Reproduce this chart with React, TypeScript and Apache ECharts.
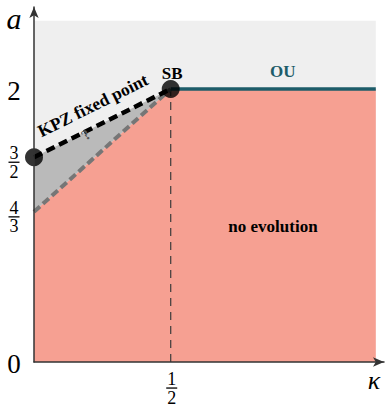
import React, { useEffect, useRef } from "react";
import * as echarts from "echarts";

// ---- data ----
const kappaRange = [0, 1.28];
const aRange = [0, 2.6];
const kappaTickValues = [0.5];
const kappaTickLabels = ["1/2"];
const aTickValues = [0, 1.1, 1.5, 2];
const aTickLabels = ["0", "4/3", "3/2", "2"];
const axisTitles = ["κ", "a"];

const backgroundRegion = [[0, 0], [0, 2.5], [1.25, 2.5], [1.25, 0]];
const noEvolutionRegion = [[0, 0], [0, 1.1], [0.5, 2], [1.25, 2], [1.25, 0]];
const uncertainRegion = [[0, 1.1], [0, 1.5], [0.5, 2]];
const kpzLine = [[0, 1.5], [0.5, 2]];
const lowerBoundLine = [[0, 1.1], [0.5, 2]];
const ouLine = [[0.5, 2], [1.25, 2]];
const sbLine = [[0.5, 0], [0.5, 2]];
const fixedPoints = [[0, 1.5], [0.5, 2]];

const annotationTexts = ["KPZ fixed point", "SB", "OU", "no evolution", "?"];
const annotationKappa = [0.215, 0.505, 0.91, 0.874, 0.19];
const annotationA = [1.88, 2.11, 2.125, 0.99, 1.665];

// ---- styles ----
const SERIF = "'Liberation Serif', 'DejaVu Serif', serif";
const annotationStyles: Record<string, any> = {
  "KPZ fixed point": { color: "#000", size: 17.5, rot: 0.46 },
  SB: { color: "#000", size: 17, rot: 0 },
  OU: { color: "#1d5c69", size: 17, rot: 0 },
  "no evolution": { color: "#000", size: 17, rot: 0 },
  "?": { color: "#555", size: 15, rot: 0.7 },
};

function regionSeries(points: number[][], color: string, z: number) {
  return {
    type: "custom",
    z,
    silent: true,
    clip: false,
    data: [[0, 0]],
    renderItem: (_p: any, api: any) => ({
      type: "polygon",
      shape: { points: points.map((pt) => api.coord(pt)) },
      style: { fill: color },
    }),
  };
}

function lineSeries(points: number[][], color: string, width: number, dash: any, z: number) {
  return {
    type: "line",
    z,
    silent: true,
    symbol: "none",
    data: points,
    lineStyle: { color, width, type: dash, cap: "butt" },
  };
}

function fractionOrText(label: string, x: number, y: number, size: number, fracSize: number) {
  if (label.includes("/")) {
    const [num, den] = label.split("/");
    return {
      type: "group",
      children: [
        { type: "text", x, y: y - 9, style: { text: num, font: `${fracSize}px ${SERIF}`, fill: "#000", align: "center", verticalAlign: "middle" } },
        { type: "rect", shape: { x: x - 5.5, y: y - 0.6, width: 11, height: 1.3 }, style: { fill: "#000" } },
        { type: "text", x, y: y + 9.5, style: { text: den, font: `${fracSize}px ${SERIF}`, fill: "#000", align: "center", verticalAlign: "middle" } },
      ],
    };
  }
  return { type: "text", x, y, style: { text: label, font: `${size}px ${SERIF}`, fill: "#000", align: "center", verticalAlign: "middle" } };
}

export default function App() {
  const ref = useRef<HTMLDivElement>(null);
  useEffect(() => {
    if (!ref.current) return;
    const chart = echarts.init(ref.current, null, { renderer: "svg" });
    const axisCommon = {
      type: "value",
      z: 10,
      axisLine: { show: true, symbol: ["none", "arrow"], symbolSize: [7, 11], lineStyle: { color: "#333", width: 1.5 } },
      axisTick: { show: false },
      axisLabel: { show: false },
      splitLine: { show: false },
    };
    chart.setOption({
      animation: false,
      grid: { left: 34, top: 7, width: 350, height: 355, containLabel: false },
      xAxis: { ...axisCommon, min: kappaRange[0], max: kappaRange[1] },
      yAxis: { ...axisCommon, min: aRange[0], max: aRange[1] },
      series: [
        regionSeries(backgroundRegion, "#efefef", 1),
        regionSeries(noEvolutionRegion, "#f6a092", 2),
        regionSeries(uncertainRegion, "#bababa", 3),
        lineSeries(sbLine, "#3a3a3a", 1.2, [8, 6], 4),
        lineSeries(lowerBoundLine, "#767676", 4, [8, 4], 5),
        lineSeries(kpzLine, "#000", 4.5, [9, 5], 6),
        lineSeries(ouLine, "#1d5c69", 3.5, "solid", 6),
        {
          type: "scatter",
          z: 8,
          silent: true,
          symbol: "circle",
          symbolSize: 18,
          itemStyle: { color: "#000" },
          data: fixedPoints,
        },
        {
          type: "custom",
          z: 9,
          silent: true,
          clip: false,
          data: annotationTexts.map((_t, i) => [annotationKappa[i], annotationA[i]]),
          renderItem: (params: any, api: any) => {
            const t = annotationTexts[params.dataIndex];
            const s = annotationStyles[t];
            const p = api.coord([api.value(0), api.value(1)]);
            return {
              type: "text",
              x: p[0],
              y: p[1],
              rotation: s.rot,
              z2: 20,
              style: { text: t, font: `bold ${s.size}px ${SERIF}`, fill: s.color, align: "center", verticalAlign: "middle" },
            };
          },
        },
        {
          type: "custom",
          z: 9,
          silent: true,
          clip: false,
          data: aTickValues.map((v) => [0, v]),
          renderItem: (params: any, api: any) => {
            const p = api.coord([api.value(0), api.value(1)]);
            const lbl = aTickLabels[params.dataIndex];
            return fractionOrText(lbl, p[0] - 20, p[1] + (lbl.includes("/") ? 5 : 2), 27, 18);
          },
        },
        {
          type: "custom",
          z: 9,
          silent: true,
          clip: false,
          data: kappaTickValues.map((v) => [v, 0]),
          renderItem: (params: any, api: any) => {
            const p = api.coord([api.value(0), api.value(1)]);
            return fractionOrText(kappaTickLabels[params.dataIndex], p[0] + 1, p[1] + 26, 27, 18);
          },
        },
        {
          type: "custom",
          z: 9,
          silent: true,
          clip: false,
          data: [[kappaRange[1], 0], [0, aRange[1]]],
          renderItem: (params: any, api: any) => {
            const p = api.coord([api.value(0), api.value(1)]);
            const isX = params.dataIndex === 0;
            return {
              type: "text",
              x: isX ? p[0] - 10 : p[0] - 20,
              y: isX ? p[1] + 18 : p[1] + 11,
              style: {
                text: axisTitles[params.dataIndex],
                font: `italic ${isX ? 26 : 30}px ${SERIF}`,
                fill: "#000",
                align: "center",
                verticalAlign: "middle",
              },
            };
          },
        },
      ],
    });
    return () => chart.dispose();
  }, []);
  return <div ref={ref} style={{ position: "absolute", left: 0, top: 0, width: 386, height: 408 }} />;
}
